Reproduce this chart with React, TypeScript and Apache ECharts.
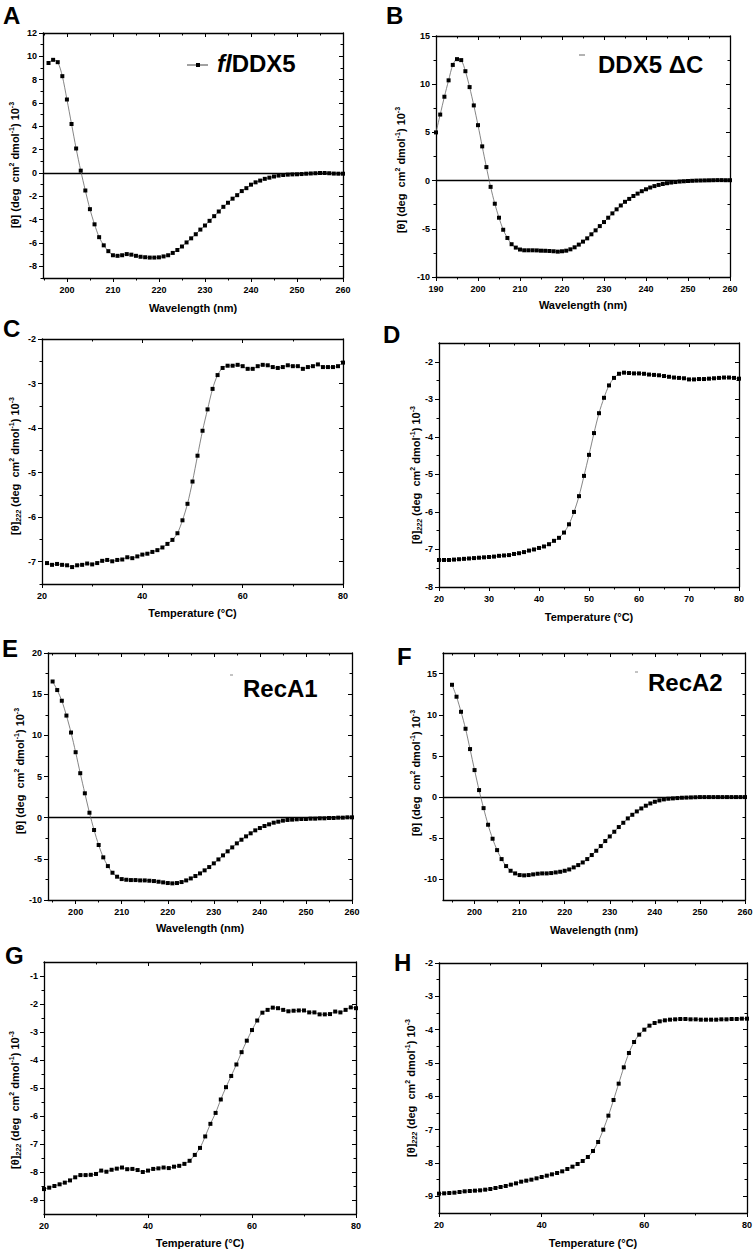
import React, { useEffect, useRef } from "react";
import * as echarts from "echarts";

const FONT = "'Liberation Sans', Arial, Helvetica, sans-serif";

// ---------------- DATA ----------------
// A: flDDX5 far-UV CD spectrum, 1 nm steps starting at 196 nm
const aStartNm = 196;
const aTheta = [
  9.43, 9.7, 9.5, 8.3, 6.3, 4.2, 2.1, 0.2, -1.5, -3.1,
  -4.4, -5.5, -6.2, -6.7, -7.05, -7.1, -7.05, -6.95, -7.0, -7.1,
  -7.18, -7.22, -7.25, -7.25, -7.23, -7.15, -7.05, -6.85, -6.6, -6.3,
  -5.95, -5.6, -5.25, -4.85, -4.5, -4.1, -3.7, -3.3, -2.9, -2.55,
  -2.2, -1.9, -1.55, -1.3, -1.0, -0.8, -0.65, -0.5, -0.4, -0.3,
  -0.22, -0.17, -0.14, -0.12, -0.11, -0.09, -0.06, -0.04, -0.02, 0.0,
  0.0, -0.02, -0.05, -0.06, -0.06,
];
// B: DDX5 ΔC spectrum, starting at 190 nm
const bStartNm = 190;
const bTheta = [
  5.0, 6.85, 8.7, 10.4, 12.0, 12.6, 12.5, 11.35, 9.7, 7.8,
  5.75, 3.55, 1.4, -0.65, -2.4, -3.85, -5.1, -5.95, -6.6, -6.95,
  -7.15, -7.23, -7.23, -7.23, -7.24, -7.27, -7.28, -7.3, -7.33, -7.37,
  -7.33, -7.27, -7.13, -6.92, -6.64, -6.33, -5.99, -5.57, -5.16, -4.72,
  -4.3, -3.85, -3.4, -2.98, -2.58, -2.2, -1.9, -1.6, -1.35, -1.1,
  -0.9, -0.72, -0.57, -0.45, -0.35, -0.27, -0.2, -0.15, -0.1, -0.07,
  -0.04, -0.02, 0.0, 0.01, 0.02, 0.03, 0.04, 0.05, 0.05, 0.04, 0.04,
];
// C: flDDX5 thermal melt at 222 nm, starting at 21 °C
const cStartC = 21;
const cTheta222 = [
  -7.03, -7.07, -7.05, -7.07, -7.08, -7.12, -7.08, -7.07, -7.04, -7.06,
  -7.03, -6.98, -6.96, -6.99, -6.96, -6.95, -6.9, -6.92, -6.88, -6.84,
  -6.82, -6.78, -6.74, -6.68, -6.6, -6.51, -6.36, -6.07, -5.7, -5.2,
  -4.62, -4.06, -3.58, -3.12, -2.81, -2.65, -2.6, -2.6, -2.58, -2.61,
  -2.67, -2.67, -2.61, -2.58, -2.59, -2.63, -2.65, -2.63, -2.59, -2.61,
  -2.61, -2.67, -2.63, -2.61, -2.57, -2.63, -2.63, -2.63, -2.61, -2.53,
];
// D: DDX5 ΔC thermal melt, starting at 20 °C
const dStartC = 20;
const dTheta222 = [
  -7.28, -7.28, -7.28, -7.27, -7.26, -7.25, -7.24, -7.23, -7.22, -7.21,
  -7.2, -7.19, -7.17, -7.16, -7.15, -7.12, -7.1, -7.07, -7.03, -7.0,
  -6.96, -6.92, -6.86, -6.77, -6.69, -6.55, -6.33, -6.0, -5.58, -5.04,
  -4.48, -3.9, -3.37, -2.96, -2.63, -2.43, -2.32, -2.29, -2.3, -2.31,
  -2.31, -2.32, -2.34, -2.35, -2.36, -2.38, -2.4, -2.42, -2.43, -2.44,
  -2.47, -2.47, -2.46, -2.46, -2.45, -2.44, -2.43, -2.42, -2.42, -2.43,
  -2.45,
];
// E: RecA1 spectrum, starting at 195 nm
const eStartNm = 195;
const eTheta = [
  16.54, 15.5, 14.2, 12.4, 10.34, 7.95, 5.4, 2.96, 0.6, -1.5,
  -3.32, -4.82, -5.88, -6.69, -7.17, -7.46, -7.54, -7.58, -7.58, -7.62,
  -7.62, -7.66, -7.7, -7.78, -7.86, -7.94, -7.98, -7.94, -7.82, -7.62,
  -7.38, -7.09, -6.77, -6.4, -6.0, -5.55, -5.07, -4.58, -4.09, -3.61,
  -3.12, -2.68, -2.27, -1.9, -1.54, -1.26, -1.01, -0.81, -0.61, -0.49,
  -0.36, -0.28, -0.24, -0.2, -0.16, -0.16, -0.12, -0.12, -0.08, -0.08,
  -0.04, -0.04, 0.0, 0.0, 0.04, 0.04,
];
// F: RecA2 spectrum, starting at 195 nm
const fStartNm = 195;
const fTheta = [
  13.64, 12.19, 10.36, 8.3, 5.83, 3.28, 0.85, -1.34, -3.36, -5.06,
  -6.44, -7.53, -8.38, -8.95, -9.27, -9.47, -9.51, -9.47, -9.39, -9.31,
  -9.27, -9.27, -9.23, -9.15, -9.07, -8.95, -8.79, -8.54, -8.26, -7.94,
  -7.53, -7.04, -6.52, -5.95, -5.34, -4.78, -4.21, -3.64, -3.12, -2.59,
  -2.15, -1.74, -1.38, -1.05, -0.77, -0.57, -0.4, -0.28, -0.2, -0.16,
  -0.12, -0.08, -0.06, -0.04, -0.02, 0.0, 0.0, 0.0, 0.0, 0.0,
  0.0, 0.0, 0.0, 0.0, 0.0, 0.0,
];
// G: RecA1 thermal melt, starting at 20 °C
const gStartC = 20;
const gTheta222 = [
  -8.61, -8.56, -8.5, -8.44, -8.38, -8.3, -8.19, -8.11, -8.11, -8.1,
  -8.07, -7.95, -7.99, -7.92, -7.88, -7.84, -7.9, -7.89, -7.93, -8.0,
  -7.95, -7.89, -7.87, -7.84, -7.86, -7.81, -7.78, -7.71, -7.6, -7.39,
  -7.14, -6.73, -6.28, -5.89, -5.41, -4.97, -4.57, -4.16, -3.72, -3.31,
  -2.93, -2.59, -2.31, -2.21, -2.13, -2.15, -2.21, -2.26, -2.24, -2.23,
  -2.23, -2.3, -2.3, -2.37, -2.37, -2.36, -2.27, -2.3, -2.21, -2.12,
  -2.15,
];
// H: RecA2 thermal melt, starting at 20 °C
const hStartC = 20;
const hTheta222 = [
  -8.92, -8.91, -8.9, -8.89, -8.87, -8.85, -8.84, -8.83, -8.82, -8.8,
  -8.78, -8.75, -8.72, -8.69, -8.65, -8.61, -8.56, -8.53, -8.5, -8.46,
  -8.42, -8.38, -8.34, -8.3, -8.25, -8.18, -8.11, -8.03, -7.94, -7.82,
  -7.64, -7.37, -7.0, -6.58, -6.11, -5.62, -5.13, -4.7, -4.37, -4.15,
  -4.0, -3.88, -3.8, -3.75, -3.72, -3.7, -3.69, -3.68, -3.68, -3.69,
  -3.69, -3.7, -3.7, -3.7, -3.7, -3.69, -3.69, -3.68, -3.68, -3.67,
  -3.67,
];

// ---------------- TICKS ----------------
const wlTicks10 = [200, 210, 220, 230, 240, 250, 260];
const wlMinor5 = [195, 205, 215, 225, 235, 245, 255];
const bXTicks = [190, 200, 210, 220, 230, 240, 250, 260];
const tempTicks20 = [20, 40, 60, 80];
const tempMinor10 = [30, 50, 70];
const tempTicks10 = [20, 30, 40, 50, 60, 70, 80];
const tempMinor5 = [25, 35, 45, 55, 65, 75];
const aYTicks = [-8, -6, -4, -2, 0, 2, 4, 6, 8, 10, 12];
const aYMinor = [-9, -7, -5, -3, -1, 1, 3, 5, 7, 9, 11];
const bYTicks = [-10, -5, 0, 5, 10, 15];
const bYMinor = [-7.5, -2.5, 2.5, 7.5, 12.5];
const cYTicks = [-7, -6, -5, -4, -3, -2];
const cYMinor = [-7.5, -6.5, -5.5, -4.5, -3.5, -2.5];
const dYTicks = [-8, -7, -6, -5, -4, -3, -2];
const dYMinor = [-7.5, -6.5, -5.5, -4.5, -3.5, -2.5];
const eYTicks = [-10, -5, 0, 5, 10, 15, 20];
const eYMinor = [-7.5, -2.5, 2.5, 7.5, 12.5, 17.5];
const fYTicks = [-10, -5, 0, 5, 10, 15];
const fYMinor = [-7.5, -2.5, 2.5, 7.5, 12.5];
const gYTicks = [-9, -8, -7, -6, -5, -4, -3, -2, -1];
const gYMinor = [-8.5, -7.5, -6.5, -5.5, -4.5, -3.5, -2.5, -1.5];
const hYTicks = [-9, -8, -7, -6, -5, -4, -3, -2];
const hYMinor = [-8.5, -7.5, -6.5, -5.5, -4.5, -3.5, -2.5];

const WL_TITLE = "Wavelength (nm)";
const T_TITLE = "Temperature (°C)";
const WL_Y = "[θ] (deg  cm{sup|2} dmol{sup|-1}) 10{sup|-3}";
const T_Y = "[θ]{sub|222} (deg  cm{sup|2} dmol{sup|-1}) 10{sup|-3}";

type Panel = {
  letter: string;
  name: string;
  start: number;
  values: number[];
  grid: [number, number, number, number];
  xRange: [number, number];
  yRange: [number, number];
  xTicks: number[];
  xMinor: number[];
  yTicks: number[];
  yMinor: number[];
  xTitle: string;
  xTitleY: number;
  yTitle: string;
  yTitlePos: [number, number];
  letterPos: [number, number];
  zero: boolean;
};

const panels: Panel[] = [
  { letter: "A", name: "flDDX5", start: aStartNm, values: aTheta, grid: [43, 33, 300, 245], xRange: [194.8, 260], yRange: [-9, 12], xTicks: wlTicks10, xMinor: wlMinor5, yTicks: aYTicks, yMinor: aYMinor, xTitle: WL_TITLE, xTitleY: 308, yTitle: WL_Y, yTitlePos: [15, 165], letterPos: [3, 15], zero: true },
  { letter: "B", name: "DDX5 ΔC", start: bStartNm, values: bTheta, grid: [436, 36, 294, 241], xRange: [190, 260], yRange: [-10, 15], xTicks: bXTicks, xMinor: wlMinor5, yTicks: bYTicks, yMinor: bYMinor, xTitle: WL_TITLE, xTitleY: 305, yTitle: WL_Y, yTitlePos: [401, 170], letterPos: [386, 15], zero: true },
  { letter: "C", name: "flDDX5 melt", start: cStartC, values: cTheta222, grid: [42, 339, 301, 245], xRange: [20, 80], yRange: [-7.5, -2], xTicks: tempTicks20, xMinor: tempMinor10, yTicks: cYTicks, yMinor: cYMinor, xTitle: T_TITLE, xTitleY: 613, yTitle: T_Y, yTitlePos: [15, 466], letterPos: [3, 328], zero: false },
  { letter: "D", name: "DDX5 ΔC melt", start: dStartC, values: dTheta222, grid: [439, 343, 300, 244], xRange: [20, 80], yRange: [-8, -1.5], xTicks: tempTicks10, xMinor: tempMinor5, yTicks: dYTicks, yMinor: dYMinor, xTitle: T_TITLE, xTitleY: 617, yTitle: T_Y, yTitlePos: [416, 475], letterPos: [383, 334], zero: false },
  { letter: "E", name: "RecA1", start: eStartNm, values: eTheta, grid: [48, 653, 304, 247], xRange: [194, 260], yRange: [-10, 20], xTicks: wlTicks10, xMinor: wlMinor5, yTicks: eYTicks, yMinor: eYMinor, xTitle: WL_TITLE, xTitleY: 928, yTitle: WL_Y, yTitlePos: [20, 771], letterPos: [2, 648], zero: true },
  { letter: "F", name: "RecA2", start: fStartNm, values: fTheta, grid: [443, 653, 302, 247], xRange: [193, 260], yRange: [-12.5, 17.5], xTicks: wlTicks10, xMinor: wlMinor5, yTicks: fYTicks, yMinor: fYMinor, xTitle: WL_TITLE, xTitleY: 930, yTitle: WL_Y, yTitlePos: [416, 773], letterPos: [397, 656], zero: true },
  { letter: "G", name: "RecA1 melt", start: gStartC, values: gTheta222, grid: [44, 962, 312, 252], xRange: [20, 80], yRange: [-9.5, -0.5], xTicks: tempTicks20, xMinor: tempMinor10, yTicks: gYTicks, yMinor: gYMinor, xTitle: T_TITLE, xTitleY: 1243, yTitle: T_Y, yTitlePos: [15, 1100], letterPos: [5, 955], zero: false },
  { letter: "H", name: "RecA2 melt", start: hStartC, values: hTheta222, grid: [439, 963, 308, 250], xRange: [20, 80], yRange: [-9.5, -2], xTicks: tempTicks20, xMinor: tempMinor10, yTicks: hYTicks, yMinor: hYMinor, xTitle: T_TITLE, xTitleY: 1243, yTitle: T_Y, yTitlePos: [411, 1088], letterPos: [394, 962], zero: false },
];

const richTitle = {
  sup: { fontSize: 7, fontWeight: "bold", fontFamily: FONT, verticalAlign: "top", lineHeight: 8, fill: "#000" },
  sub: { fontSize: 7, fontWeight: "bold", fontStyle: "italic", fontFamily: FONT, verticalAlign: "bottom", lineHeight: 8, fill: "#000" },
};

function buildOption() {
  const grids: any[] = [];
  const xAxes: any[] = [];
  const yAxes: any[] = [];
  const series: any[] = [];
  const graphics: any[] = [];
  const lineStyle = { color: "#000", width: 1.3 };
  const tickStyle = { color: "#000", width: 1 };
  const labelStyle = { fontSize: 9, fontWeight: "bold", color: "#000", fontFamily: FONT };

  panels.forEach((p, i) => {
    const [l, t, w, h] = p.grid;
    grids.push({ left: l, top: t, width: w, height: h, containLabel: false, outerBoundsMode: "none", show: false });
    const xb = { type: "value", gridIndex: i, min: p.xRange[0], max: p.xRange[1], splitLine: { show: false }, scale: true };
    const yb = { type: "value", gridIndex: i, min: p.yRange[0], max: p.yRange[1], splitLine: { show: false }, scale: true };
    xAxes.push({
      ...xb, position: "bottom",
      axisLine: { show: true, onZero: false, lineStyle },
      axisTick: { show: true, inside: false, length: 4, customValues: p.xTicks, lineStyle: tickStyle },
      axisLabel: { show: true, customValues: p.xTicks, margin: 7, ...labelStyle },
      name: p.xTitle, nameLocation: "middle", nameGap: p.xTitleY - 6 - (t + h), nameMoveOverlap: false,
      nameTextStyle: { fontSize: 11, fontWeight: "bold", color: "#000", fontFamily: FONT },
    });
    xAxes.push({ ...xb, position: "bottom", axisLine: { show: false, onZero: false }, axisTick: { show: true, inside: false, length: 2.5, customValues: p.xMinor, lineStyle: tickStyle }, axisLabel: { show: false } });
    xAxes.push({ ...xb, position: "top", axisLine: { show: true, onZero: false, lineStyle }, axisTick: { show: true, inside: true, length: 4, customValues: p.xTicks, lineStyle: tickStyle }, axisLabel: { show: false } });
    xAxes.push({ ...xb, position: "top", axisLine: { show: false, onZero: false }, axisTick: { show: true, inside: true, length: 2.5, customValues: p.xMinor, lineStyle: tickStyle }, axisLabel: { show: false } });

    yAxes.push({
      ...yb, position: "left",
      axisLine: { show: true, onZero: false, lineStyle },
      axisTick: { show: true, inside: false, length: 4, customValues: p.yTicks, lineStyle: tickStyle },
      axisLabel: { show: true, customValues: p.yTicks, margin: 6, ...labelStyle },
    });
    yAxes.push({ ...yb, position: "left", axisLine: { show: false, onZero: false }, axisTick: { show: true, inside: false, length: 2.5, customValues: p.yMinor, lineStyle: tickStyle }, axisLabel: { show: false } });
    yAxes.push({ ...yb, position: "right", axisLine: { show: true, onZero: false, lineStyle }, axisTick: { show: true, inside: true, length: 4, customValues: p.yTicks, lineStyle: tickStyle }, axisLabel: { show: false } });
    yAxes.push({ ...yb, position: "right", axisLine: { show: false, onZero: false }, axisTick: { show: true, inside: true, length: 2.5, customValues: p.yMinor, lineStyle: tickStyle }, axisLabel: { show: false } });

    series.push({
      type: "line",
      name: p.name,
      xAxisIndex: i * 4,
      yAxisIndex: i * 4,
      data: p.values.map((v, k) => [p.start + k, v]),
      symbol: "rect",
      symbolSize: 4,
      showSymbol: true,
      smooth: 0.3,
      itemStyle: { color: "#000" },
      lineStyle: { color: "#666", width: 0.8 },
      z: 3,
      markLine: p.zero
        ? { silent: true, symbol: ["none", "none"], label: { show: false }, lineStyle: { color: "#000", width: 1.3, type: "solid" }, data: [{ yAxis: 0 }], z: 2 }
        : undefined,
    });

    graphics.push({
      type: "text", x: p.letterPos[0], y: p.letterPos[1],
      style: { text: p.letter, fontSize: 24, fontWeight: "bold", fontFamily: FONT, fill: "#000", align: "left", verticalAlign: "middle" },
    });
    graphics.push({
      type: "text", x: p.yTitlePos[0], y: p.yTitlePos[1], rotation: Math.PI / 2,
      style: { text: p.yTitle, rich: richTitle, fontSize: 11, fontWeight: "bold", fontFamily: FONT, fill: "#000", align: "center", verticalAlign: "middle", lineHeight: 14 },
    });
  });

  // legends (drawn as graphics)
  const legendText = (x: number, y: number, text: string, rich?: any) => ({
    type: "text", x, y,
    style: { text, rich, fontSize: 24, fontWeight: "bold", fontFamily: FONT, fill: "#000", align: "left", verticalAlign: "middle" },
  });
  graphics.push({ type: "line", shape: { x1: 187, y1: 65, x2: 208, y2: 65 }, style: { stroke: "#444", lineWidth: 1 } });
  graphics.push({ type: "rect", shape: { x: 196, y: 63, width: 4, height: 4 }, style: { fill: "#000" } });
  graphics.push(legendText(217, 63, "{i|fl}DDX5", { i: { fontSize: 24, fontWeight: "bold", fontStyle: "italic", fontFamily: FONT, fill: "#000" } }));
  graphics.push({ type: "line", shape: { x1: 579, y1: 55, x2: 585, y2: 55 }, style: { stroke: "#666", lineWidth: 1 } });
  graphics.push(legendText(598, 64, "DDX5 ΔC"));
  graphics.push({ type: "line", shape: { x1: 230, y1: 675, x2: 233, y2: 675 }, style: { stroke: "#888", lineWidth: 1 } });
  graphics.push(legendText(243, 688, "RecA1"));
  graphics.push({ type: "line", shape: { x1: 635, y1: 672, x2: 638, y2: 672 }, style: { stroke: "#888", lineWidth: 1 } });
  graphics.push(legendText(648, 682, "RecA2"));

  return {
    animation: false,
    backgroundColor: "#fff",
    textStyle: { fontFamily: FONT },
    grid: grids,
    xAxis: xAxes,
    yAxis: yAxes,
    series,
    graphic: graphics,
  };
}

export default function App() {
  const ref = useRef<HTMLDivElement>(null);
  useEffect(() => {
    if (!ref.current) return;
    const chart = echarts.init(ref.current, undefined, { renderer: "svg" });
    chart.setOption(buildOption() as any);
    return () => chart.dispose();
  }, []);
  return (
    <div
      ref={ref}
      style={{ position: "absolute", left: 0, top: 0, width: 756, height: 1255, background: "#fff" }}
    />
  );
}
